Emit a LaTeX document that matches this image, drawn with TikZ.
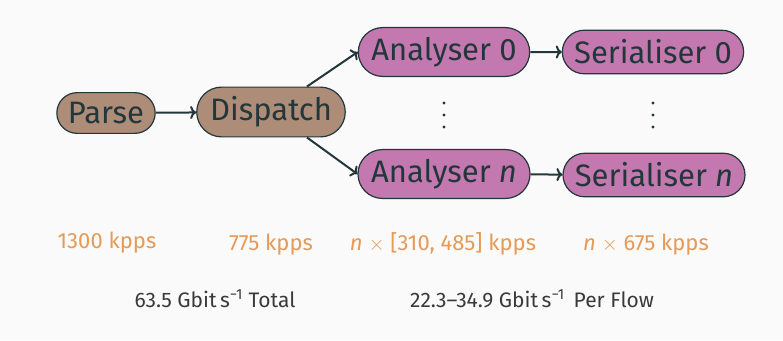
\documentclass[tikz,border=0pt]{standalone}
\usepackage{fontspec}
\setmainfont{Fira Sans}
\usetikzlibrary{shapes.misc,arrows.meta,calc}
\definecolor{bg}{HTML}{FAFAFA}
\definecolor{ink}{HTML}{23373B}
\definecolor{brownfill}{HTML}{AD8C78}
\definecolor{pinkfill}{HTML}{C478B0}
\definecolor{rate}{HTML}{E59A57}
\definecolor{note}{HTML}{3A3A3A}
\tikzset{
  stage/.style={draw=ink, line width=1.2pt, rounded rectangle, text=ink,
    font=\fontsize{31}{34}\selectfont, inner xsep=8pt, inner ysep=9.5pt},
  early/.style={stage, fill=brownfill},
  late/.style={stage, fill=pinkfill},
  flow/.style={draw=ink, line width=2pt, -{To[length=6pt,width=13pt]}},
  ratelabel/.style={text=rate, font=\fontsize{22}{24}\selectfont, anchor=base},
  notelabel/.style={text=note, font=\fontsize{21}{24}\selectfont, anchor=base},
  dot/.style={circle, fill=ink, inner sep=0pt, minimum size=3.4pt}
}
\begin{document}
\begin{tikzpicture}[x=1pt,y=-1pt]
\fill[bg] (0,0) rectangle (783,340);
\useasboundingbox (0,0) rectangle (783,340);
\node[early] (parse) at (106,113) {Parse};
\node[early] (dispatch) at (271,112) {Dispatch};
\node[late] (a0) at (444,52) {Analyser 0};
\node[late] (an) at (444,174) {Analyser \textit{n}};
\node[late] (s0) at (653,52) {Serialiser 0};
\node[late] (sn) at (654,175) {Serialiser \textit{n}};
\foreach \x/\k in {444/a,653/s}{
  \node[dot] (\k d1) at (\x,103) {};
  \node[dot] (\k d2) at (\x,115) {};
  \node[dot] (\k d3) at (\x,127) {};
}
\draw[flow] (parse) -- (dispatch);
\draw[flow] ($(dispatch.north)+(36,0)$) coordinate (du) -- (a0.west);
\draw[flow] ($(dispatch.south)+(36,0)$) coordinate (dl) -- (an.west);
\draw[flow] (a0) -- (s0);
\draw[flow] (an) -- (sn);
\node[ratelabel] (r1) at (107,248) {1300 kpps};
\node[ratelabel] (r2) at (271,250) {775 kpps};
\node[ratelabel] (r3) at (443,250) {\textit{n} $\times$ [310, 485] kpps};
\node[ratelabel] (r4) at (646,250) {\textit{n} $\times$ 675 kpps};
\node[notelabel] (t1) at (215,307) {63.5 Gbit\,s\textsuperscript{−1} Total};
\node[notelabel] (t2) at (532,307) {22.3–34.9 Gbit\,s\textsuperscript{−1}\hspace{9pt}Per Flow};
\end{tikzpicture}
\end{document}
